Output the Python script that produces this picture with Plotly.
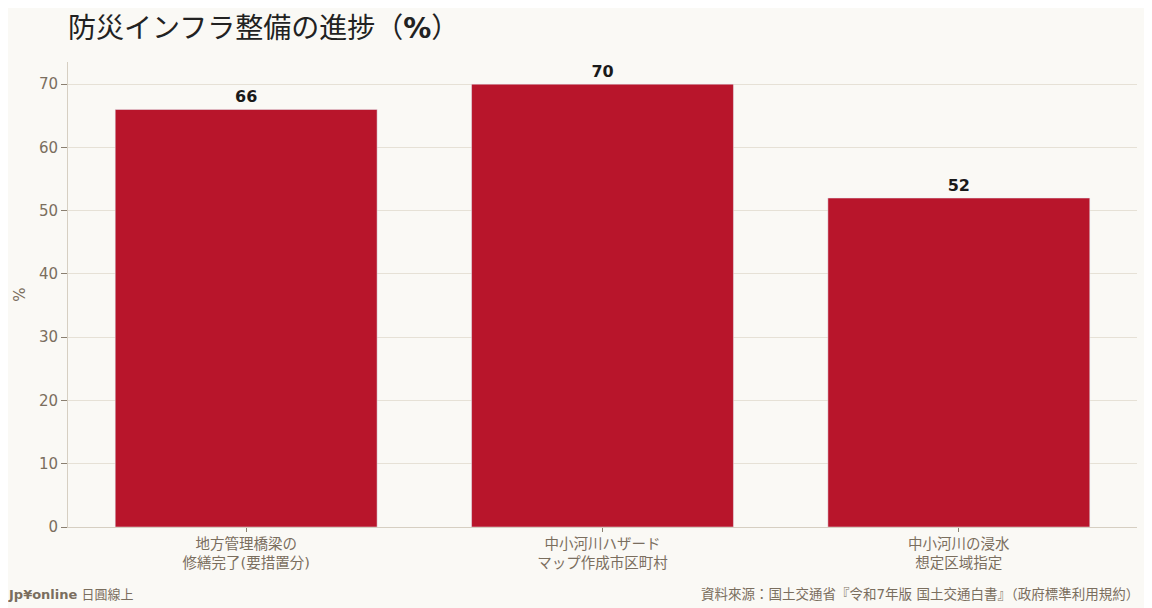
import plotly.graph_objects as go

categories = ["地方管理橋梁の<br>修繕完了(要措置分)", "中小河川ハザード<br>マップ作成市区町村", "中小河川の浸水<br>想定区域指定"]
values = [66, 70, 52]

title_text = "防災インフラ整備の進捗（<b>%</b>）"
source_text = "資料來源：国土交通省『令和7年版 国土交通白書』（政府標準利用規約）"
brand_text = "<b>Jp¥online</b> 日圓線上"

bg = "#faf9f5"
font = "DejaVu Sans, Noto Sans CJK JP, sans-serif"

# page is offset 8px by the browser body margin, so the figure is 8px smaller
W, H = 1144, 600
ml, mr, mt, mb = 60, 15, 54, 81
plot_w, plot_h = W - ml - mr, H - mt - mb

fig = go.Figure()
fig.add_trace(go.Bar(
    x=categories, y=values,
    marker_color="#b8152b",
    text=[str(v) for v in values],
    textposition="outside",
    textfont=dict(size=16, color="#1a1a1a", family=font),
    texttemplate="<b>%{text}</b>",
    cliponaxis=False,
    width=0.735,
))

fig.update_layout(
    width=W, height=H,
    paper_bgcolor=bg, plot_bgcolor=bg,
    font=dict(family=font, color="#7a6e5e", size=14),
    margin=dict(l=ml, r=mr, t=mt, b=mb),
    title=dict(text=title_text, x=ml / W, xanchor="left", y=1 - 20 / H, yanchor="middle",
               font=dict(size=28, color="#222222", family=font)),
    showlegend=False,
)
fig.update_yaxes(
    range=[0, 73.5], dtick=10,
    showgrid=True, gridcolor="#e6e1d6", gridwidth=1,
    showline=True, linecolor="#d6cfc2", linewidth=1,
    ticks="outside", tickcolor="#8a7f70", ticklen=6,
    tickfont=dict(size=15, color="#7a6e5e"),
    title=dict(text="%", font=dict(size=15, color="#7a6e5e"), standoff=9),
    zeroline=False,
)
fig.update_xaxes(
    showline=True, linecolor="#d6cfc2", linewidth=1,
    ticks="outside", tickcolor="#8a7f70", ticklen=4,
    tickfont=dict(size=14.5, color="#7a6e5e"),
)

foot_y = -(586 - (mt + plot_h)) / plot_h
fig.add_annotation(text=brand_text, xref="paper", yref="paper", x=-(ml + 2) / plot_w, y=foot_y,
                   xanchor="left", yanchor="middle", showarrow=False,
                   font=dict(size=13, color="#7a6e5e", family=font))
fig.add_annotation(text=source_text, xref="paper", yref="paper", x=1 + 4 / plot_w, y=foot_y,
                   xanchor="right", yanchor="middle", showarrow=False,
                   font=dict(size=13.5, color="#7a6e5e", family="DejaVu Sans, Noto Sans CJK TC, sans-serif"))

fig.write_html("out.html")
